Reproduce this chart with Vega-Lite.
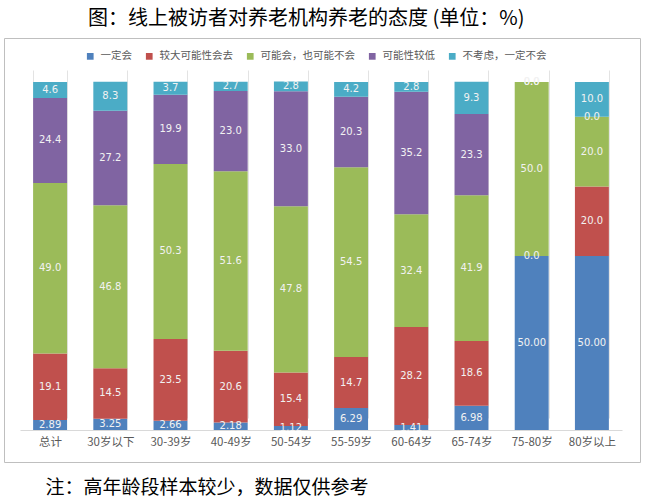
{
  "$schema": "https://vega.github.io/schema/vega-lite/v6.json",
  "autosize": {"type": "none"},
  "width": 636,
  "height": 424,
  "padding": {"left": 4, "top": 38, "right": 5, "bottom": 41},
  "title": {
    "text": "图：线上被访者对养老机构养老的态度 (单位：%)",
    "font": "Noto Sans CJK SC",
    "fontSize": 20,
    "fontWeight": "normal",
    "color": "#000000",
    "anchor": "start",
    "frame": "group",
    "dx": 84,
    "offset": 9
  },
  "config": {
    "view": {"stroke": "#BFBFBF", "strokeWidth": 1},
    "font": "Noto Sans CJK SC"
  },
  "data": {
    "values": [
      {"年龄段": "总计", "态度": "一定会", "比例": 2.89},
      {"年龄段": "总计", "态度": "较大可能性会去", "比例": 19.1},
      {"年龄段": "总计", "态度": "可能会，也可能不会", "比例": 49.0},
      {"年龄段": "总计", "态度": "可能性较低", "比例": 24.4},
      {"年龄段": "总计", "态度": "不考虑，一定不会", "比例": 4.6},
      {"年龄段": "30岁以下", "态度": "一定会", "比例": 3.25},
      {"年龄段": "30岁以下", "态度": "较大可能性会去", "比例": 14.5},
      {"年龄段": "30岁以下", "态度": "可能会，也可能不会", "比例": 46.8},
      {"年龄段": "30岁以下", "态度": "可能性较低", "比例": 27.2},
      {"年龄段": "30岁以下", "态度": "不考虑，一定不会", "比例": 8.3},
      {"年龄段": "30-39岁", "态度": "一定会", "比例": 2.66},
      {"年龄段": "30-39岁", "态度": "较大可能性会去", "比例": 23.5},
      {"年龄段": "30-39岁", "态度": "可能会，也可能不会", "比例": 50.3},
      {"年龄段": "30-39岁", "态度": "可能性较低", "比例": 19.9},
      {"年龄段": "30-39岁", "态度": "不考虑，一定不会", "比例": 3.7},
      {"年龄段": "40-49岁", "态度": "一定会", "比例": 2.18},
      {"年龄段": "40-49岁", "态度": "较大可能性会去", "比例": 20.6},
      {"年龄段": "40-49岁", "态度": "可能会，也可能不会", "比例": 51.6},
      {"年龄段": "40-49岁", "态度": "可能性较低", "比例": 23.0},
      {"年龄段": "40-49岁", "态度": "不考虑，一定不会", "比例": 2.7},
      {"年龄段": "50-54岁", "态度": "一定会", "比例": 1.12},
      {"年龄段": "50-54岁", "态度": "较大可能性会去", "比例": 15.4},
      {"年龄段": "50-54岁", "态度": "可能会，也可能不会", "比例": 47.8},
      {"年龄段": "50-54岁", "态度": "可能性较低", "比例": 33.0},
      {"年龄段": "50-54岁", "态度": "不考虑，一定不会", "比例": 2.8},
      {"年龄段": "55-59岁", "态度": "一定会", "比例": 6.29},
      {"年龄段": "55-59岁", "态度": "较大可能性会去", "比例": 14.7},
      {"年龄段": "55-59岁", "态度": "可能会，也可能不会", "比例": 54.5},
      {"年龄段": "55-59岁", "态度": "可能性较低", "比例": 20.3},
      {"年龄段": "55-59岁", "态度": "不考虑，一定不会", "比例": 4.2},
      {"年龄段": "60-64岁", "态度": "一定会", "比例": 1.41},
      {"年龄段": "60-64岁", "态度": "较大可能性会去", "比例": 28.2},
      {"年龄段": "60-64岁", "态度": "可能会，也可能不会", "比例": 32.4},
      {"年龄段": "60-64岁", "态度": "可能性较低", "比例": 35.2},
      {"年龄段": "60-64岁", "态度": "不考虑，一定不会", "比例": 2.8},
      {"年龄段": "65-74岁", "态度": "一定会", "比例": 6.98},
      {"年龄段": "65-74岁", "态度": "较大可能性会去", "比例": 18.6},
      {"年龄段": "65-74岁", "态度": "可能会，也可能不会", "比例": 41.9},
      {"年龄段": "65-74岁", "态度": "可能性较低", "比例": 23.3},
      {"年龄段": "65-74岁", "态度": "不考虑，一定不会", "比例": 9.3},
      {"年龄段": "75-80岁", "态度": "一定会", "比例": 50.0},
      {"年龄段": "75-80岁", "态度": "较大可能性会去", "比例": 0.0},
      {"年龄段": "75-80岁", "态度": "可能会，也可能不会", "比例": 50.0},
      {"年龄段": "75-80岁", "态度": "可能性较低", "比例": 0.0},
      {"年龄段": "75-80岁", "态度": "不考虑，一定不会", "比例": 0.0},
      {"年龄段": "80岁以上", "态度": "一定会", "比例": 50.0},
      {"年龄段": "80岁以上", "态度": "较大可能性会去", "比例": 20.0},
      {"年龄段": "80岁以上", "态度": "可能会，也可能不会", "比例": 20.0},
      {"年龄段": "80岁以上", "态度": "可能性较低", "比例": 0.0},
      {"年龄段": "80岁以上", "态度": "不考虑，一定不会", "比例": 10.0}
    ]
  },
  "transform": [
    {"calculate": "indexof(['一定会', '较大可能性会去', '可能会，也可能不会', '可能性较低', '不考虑，一定不会'], datum['态度'])", "as": "堆叠顺序"}
  ],
  "layer": [
    {
      "mark": {"type": "bar"},
      "encoding": {
        "x": {
          "field": "年龄段",
          "type": "nominal",
          "scale": {
            "domain": ["总计", "30岁以下", "30-39岁", "40-49岁", "50-54岁", "55-59岁", "60-64岁", "65-74岁", "75-80岁", "80岁以上"],
            "range": [16, 618],
            "paddingInner": 0.436,
            "paddingOuter": 0.218
          },
          "axis": {
            "orient": "bottom",
            "offset": -32,
            "domainColor": "#D9D9D9",
            "ticks": false,
            "grid": true,
            "gridColor": "#E3E3E3",
            "gridWidth": 1,
            "tickBand": "extent",
            "labelAngle": 0,
            "labelColor": "#595959",
            "labelFontSize": 11.5,
            "labelPadding": 6,
            "labelFont": "Noto Sans CJK SC",
            "title": "注：高年龄段样本较少，数据仅供参考",
            "titleFont": "Noto Sans CJK SC",
            "titleFontSize": 19,
            "titleFontWeight": "normal",
            "titleColor": "#000000",
            "titleAnchor": "start",
            "titleAlign": "left",
            "titleBaseline": "middle",
            "titleX": 41,
            "titleY": 57
          }
        },
        "y": {
          "field": "比例",
          "type": "quantitative",
          "stack": "zero",
          "scale": {"domain": [0, 100], "range": [392, 44], "nice": false},
          "axis": null
        },
        "order": {"field": "堆叠顺序", "type": "quantitative", "sort": "ascending"},
        "color": {
          "field": "态度",
          "type": "nominal",
          "scale": {
            "domain": ["一定会", "较大可能性会去", "可能会，也可能不会", "可能性较低", "不考虑，一定不会"],
            "range": ["#4F81BD", "#C0504D", "#9BBB59", "#8064A2", "#4BACC6"]
          },
          "legend": {
            "orient": "none",
            "legendX": 81,
            "legendY": 13,
            "direction": "horizontal",
            "columns": 5,
            "title": null,
            "symbolType": "square",
            "symbolSize": 45,
            "symbolStrokeWidth": 0,
            "labelFontSize": 10.5,
            "labelColor": "#595959",
            "labelFont": "Noto Sans CJK SC",
            "labelOffset": 5,
            "columnPadding": 12
          }
        }
      }
    },
    {
      "mark": {"type": "text", "font": "DejaVu Sans", "fontSize": 10, "color": "#F2F2F2", "baseline": "middle"},
      "encoding": {
        "x": {"field": "年龄段", "type": "nominal"},
        "y": {"field": "比例", "type": "quantitative", "stack": "zero", "bandPosition": 0.5},
        "detail": {"field": "态度", "type": "nominal"},
        "order": {"field": "堆叠顺序", "type": "quantitative", "sort": "ascending"},
        "text": {"field": "比例", "type": "quantitative", "format": ".2f"},
        "opacity": {"condition": {"test": "datum['态度'] === '一定会'", "value": 1}, "value": 0}
      }
    },
    {
      "mark": {"type": "text", "font": "DejaVu Sans", "fontSize": 10, "color": "#F2F2F2", "baseline": "middle"},
      "encoding": {
        "x": {"field": "年龄段", "type": "nominal"},
        "y": {"field": "比例", "type": "quantitative", "stack": "zero", "bandPosition": 0.5},
        "detail": {"field": "态度", "type": "nominal"},
        "order": {"field": "堆叠顺序", "type": "quantitative", "sort": "ascending"},
        "text": {"field": "比例", "type": "quantitative", "format": ".1f"},
        "opacity": {"condition": {"test": "datum['态度'] !== '一定会'", "value": 1}, "value": 0}
      }
    }
  ]
}
